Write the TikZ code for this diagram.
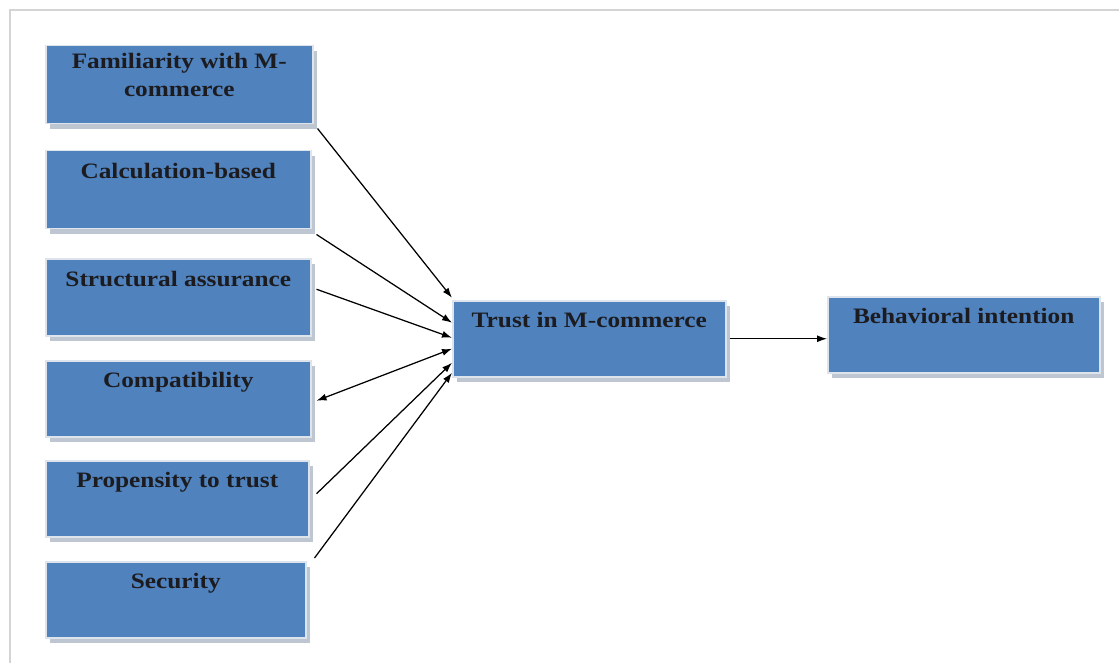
\documentclass[tikz,border=0pt]{standalone}
\usepackage{fontspec}
\setmainfont{Liberation Serif}[FakeStretch=1.15]
\usepackage{tikz}
\usetikzlibrary{positioning}
\usetikzlibrary{arrows.meta}
\usetikzlibrary{shadows}
\definecolor{boxblue}{RGB}{80,130,190}
\definecolor{boxedge}{RGB}{222,228,236}
\definecolor{boxshade}{RGB}{190,198,210}
\definecolor{textdark}{RGB}{28,28,32}
\definecolor{framegray}{RGB}{212,212,212}
\tikzset{my_diagram/.style={x=1pt,y=-1pt,>={Latex[length=10pt,width=7pt]}}}
\tikzset{my_box/.style={rectangle, anchor=north west, fill=boxblue, draw=boxedge, line width=1.5pt,
    inner sep=0pt, text height=27pt, text depth=49pt, align=center, text=textdark,
    font=\bfseries\fontsize{22}{28}\selectfont,
    drop shadow={shadow xshift=4pt, shadow yshift=-5pt, fill=boxshade, opacity=1}}}
\tikzset{my_link/.style={->, black, line width=1.25pt}}

\begin{document}
\begin{tikzpicture}[my_diagram]
    \useasboundingbox (0,0) rectangle (1119,663);
    \draw[framegray, line width=2.5pt] (10,663) -- (10,10) -- (1119,10);
    %\draw[help lines, step=50] (0,0) grid (1119,663);
    \node[my_box, minimum width=267pt, minimum height=78pt, text height=51pt, text depth=27pt] (fam) at (45,45) {Familiarity with M-\\commerce};
    \node[my_box, minimum width=265pt, minimum height=78pt] (calc) at (45,150) {Calculation-based};
    \node[my_box, minimum width=265pt, minimum height=77pt] (struct) at (45,258) {Structural assurance};
    \node[my_box, minimum width=265pt, minimum height=76pt] (compat) at (45,360) {Compatibility};
    \node[my_box, minimum width=263pt, minimum height=75pt] (prop) at (45,460) {Propensity to trust};
    \node[my_box, minimum width=260pt, minimum height=75pt] (sec) at (45,561) {Security};
    \node[my_box, minimum width=273pt, minimum height=76pt] (trust) at (452,300) {Trust in M-commerce};
    \node[my_box, minimum width=272pt, minimum height=76pt] (behav) at (827,296) {Behavioral intention};

    \draw[my_link] ([xshift=4pt,yshift=-4pt]fam.south east) -- ([yshift=41pt]trust.west);
    \draw[my_link] ([xshift=5pt,yshift=-5pt]calc.south east) -- ([yshift=16pt]trust.west);
    \draw[my_link] ([xshift=5pt,yshift=8pt]struct.east) -- ([yshift=1pt]trust.west);
    \draw[my_link, <->] ([xshift=5pt,yshift=-2pt]compat.east) -- ([yshift=-10pt]trust.west);
    \draw[my_link] ([xshift=7pt,yshift=5pt]prop.east) -- ([yshift=-24pt]trust.west);
    \draw[my_link] ([xshift=8pt,yshift=3pt]sec.north east) -- ([yshift=-34pt]trust.west);
    \draw[my_link] ([xshift=3pt]trust.east) -- (trust.east -| behav.west);
\end{tikzpicture}
\end{document}
